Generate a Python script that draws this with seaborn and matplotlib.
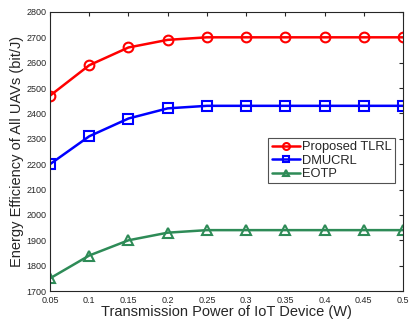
import matplotlib
matplotlib.use('Agg')
import matplotlib.pyplot as plt
import seaborn as sns
import pandas as pd

power = [0.05, 0.1, 0.15, 0.2, 0.25, 0.3, 0.35, 0.4, 0.45, 0.5]
tlrl = [2470, 2590, 2660, 2690, 2700, 2700, 2700, 2700, 2700, 2700]
dmucrl = [2200, 2310, 2380, 2420, 2430, 2430, 2430, 2430, 2430, 2430]
eotp = [1750, 1840, 1900, 1930, 1940, 1940, 1940, 1940, 1940, 1940]
names = ['Proposed TLRL', 'DMUCRL', 'EOTP']
colors = ['#ff0000', '#0000ff', '#2e8b57']
markers = ['o', 's', '^']

sns.set_style('white')
plt.rcParams['font.family'] = ['Liberation Sans', 'DejaVu Sans']

df = pd.DataFrame({'x': power * 3,
                   'y': tlrl + dmucrl + eotp,
                   'method': [n for n in names for _ in power]})

fig = plt.figure(figsize=(4.1, 3.23), dpi=100)
ax = fig.add_axes([0.122, 0.099, 0.861, 0.864])

sns.lineplot(data=df, x='x', y='y', hue='method', style='method',
             palette=colors, markers=markers, dashes=False, ax=ax,
             linewidth=1.8, markersize=7, markerfacecolor='none',
             markeredgewidth=1.5)
for line, c in zip(ax.lines, colors):
    line.set_markeredgecolor(c)

ax.set_xlim(0.05, 0.5)
ax.set_ylim(1700, 2800)
ax.set_xticks(power)
ax.set_xticklabels(['0.05', '0.1', '0.15', '0.2', '0.25', '0.3', '0.35', '0.4', '0.45', '0.5'])
ax.set_yticks(range(1700, 2801, 100))
ax.tick_params(direction='in', top=True, right=True, length=3, width=0.8,
               labelsize=6.5, colors='#262626')
ax.tick_params(axis='x', pad=3.5)
ax.tick_params(axis='y', pad=2.5)
for s in ax.spines.values():
    s.set_color('#262626')
    s.set_linewidth(0.8)
ax.set_xlabel('Transmission Power of IoT Device (W)', fontsize=10.5, color='#262626', labelpad=0)
ax.set_ylabel('Energy Efficiency of All UAVs (bit/J)', fontsize=10.5, color='#262626', labelpad=2)

leg = ax.legend(loc='upper right', bbox_to_anchor=(0.977, 0.548), fontsize=9.3,
                frameon=True, fancybox=False, edgecolor='#262626',
                handlelength=2.2, handletextpad=0.15, borderpad=0.25,
                labelspacing=0.1, borderaxespad=0)
leg.get_frame().set_linewidth(0.8)
for h, c in zip(leg.legend_handles, colors):
    h.set_markerfacecolor('none')
    h.set_markeredgecolor(c)
    h.set_markersize(5)

fig.savefig('out.png', dpi=100)
